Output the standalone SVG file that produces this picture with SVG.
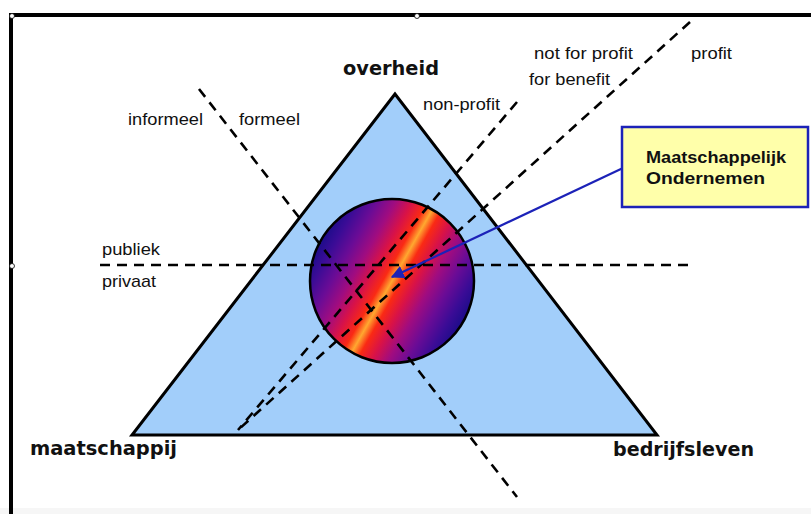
<svg xmlns="http://www.w3.org/2000/svg" width="811" height="514" viewBox="0 0 811 514">
<style>
.lbl{font-family:"Liberation Sans",Arial,sans-serif;font-size:17px;fill:#111}
.big{font-family:"DejaVu Sans",Verdana,sans-serif;font-weight:bold;font-size:19px;fill:#111}
.box{font-family:"Liberation Sans",Arial,sans-serif;font-weight:bold;font-size:16px;fill:#111}
.dash{stroke:#000;stroke-width:2.6;stroke-dasharray:10 7;fill:none}
.handle{fill:#fff;stroke:#000;stroke-width:0.8}
</style>
<defs>
<linearGradient id="g" gradientUnits="userSpaceOnUse" x1="320.6" y1="240.7" x2="463.4" y2="321.3">
<stop offset="0" stop-color="#1c0c8a"/>
<stop offset="0.08" stop-color="#3a0c96"/>
<stop offset="0.18" stop-color="#6a0c96"/>
<stop offset="0.28" stop-color="#a00c80"/>
<stop offset="0.37" stop-color="#d81248"/>
<stop offset="0.45" stop-color="#fa2a14"/>
<stop offset="0.5" stop-color="#ffa830"/>
<stop offset="0.55" stop-color="#fa2a14"/>
<stop offset="0.63" stop-color="#d81248"/>
<stop offset="0.72" stop-color="#a00c80"/>
<stop offset="0.82" stop-color="#6a0c96"/>
<stop offset="0.92" stop-color="#3a0c96"/>
<stop offset="1" stop-color="#1c0c8a"/>
</linearGradient>
<marker id="ah" viewBox="0 0 10 10" refX="9" refY="5" markerWidth="6" markerHeight="6" orient="auto" markerUnits="strokeWidth">
<path d="M0,0 L10,5 L0,10 z" fill="#1c22b8"/>
</marker>
</defs>
<rect x="0" y="0" width="811" height="514" fill="#fff"/>
<rect x="0" y="508" width="811" height="6" fill="#f6f6f6"/>
<g id="frame">
<line x1="9" y1="15" x2="811" y2="15" stroke="#000" stroke-width="4"/>
<line x1="11" y1="13" x2="11" y2="514" stroke="#000" stroke-width="4"/>
<circle class="handle" cx="12" cy="16" r="2.5"/>
<circle class="handle" cx="417" cy="16" r="2.5"/>
<circle class="handle" cx="12" cy="266" r="2.5"/>
</g>
<g id="triangle">
<polygon points="395,94 132,435 657,435" fill="#a2cefa" stroke="#000" stroke-width="3" stroke-linejoin="miter"/>
</g>
<g id="circle">
<circle cx="392" cy="281" r="82" fill="url(#g)" stroke="#000" stroke-width="2.5"/>
</g>
<g id="connectors">
<line class="dash" x1="100" y1="265" x2="693" y2="265"/>
<line class="dash" x1="199" y1="89" x2="517" y2="497"/>
<line class="dash" x1="517" y1="102" x2="238" y2="430"/>
<line class="dash" x1="690" y1="22" x2="238" y2="430"/>
<line x1="623" y1="168" x2="392" y2="277" stroke="#1c22b8" stroke-width="2.2" marker-end="url(#ah)"/>
</g>
<g id="box">
<rect x="622" y="127" width="186" height="80" fill="#ffffaa" stroke="#1c22b8" stroke-width="2.5"/>
<text class="box" x="646" y="163" textLength="140" lengthAdjust="spacingAndGlyphs">Maatschappelijk</text>
<text class="box" x="646" y="184" textLength="119" lengthAdjust="spacingAndGlyphs">Ondernemen</text>
</g>
<g id="labels">
<text class="big" x="343" y="75" textLength="96" lengthAdjust="spacingAndGlyphs">overheid</text>
<text class="big" x="30" y="455" textLength="147" lengthAdjust="spacingAndGlyphs">maatschappij</text>
<text class="big" x="613" y="456" textLength="141" lengthAdjust="spacingAndGlyphs">bedrijfsleven</text>
<text class="lbl" x="128" y="125" textLength="75" lengthAdjust="spacingAndGlyphs">informeel</text>
<text class="lbl" x="239" y="125" textLength="61" lengthAdjust="spacingAndGlyphs">formeel</text>
<text class="lbl" x="423" y="110" textLength="77" lengthAdjust="spacingAndGlyphs">non-profit</text>
<text class="lbl" x="534" y="59" textLength="99" lengthAdjust="spacingAndGlyphs">not for profit</text>
<text class="lbl" x="529" y="85" textLength="81" lengthAdjust="spacingAndGlyphs">for benefit</text>
<text class="lbl" x="691" y="59" textLength="41" lengthAdjust="spacingAndGlyphs">profit</text>
<text class="lbl" x="102" y="255" textLength="58" lengthAdjust="spacingAndGlyphs">publiek</text>
<text class="lbl" x="102" y="287" textLength="54" lengthAdjust="spacingAndGlyphs">privaat</text>
</g>
</svg>
